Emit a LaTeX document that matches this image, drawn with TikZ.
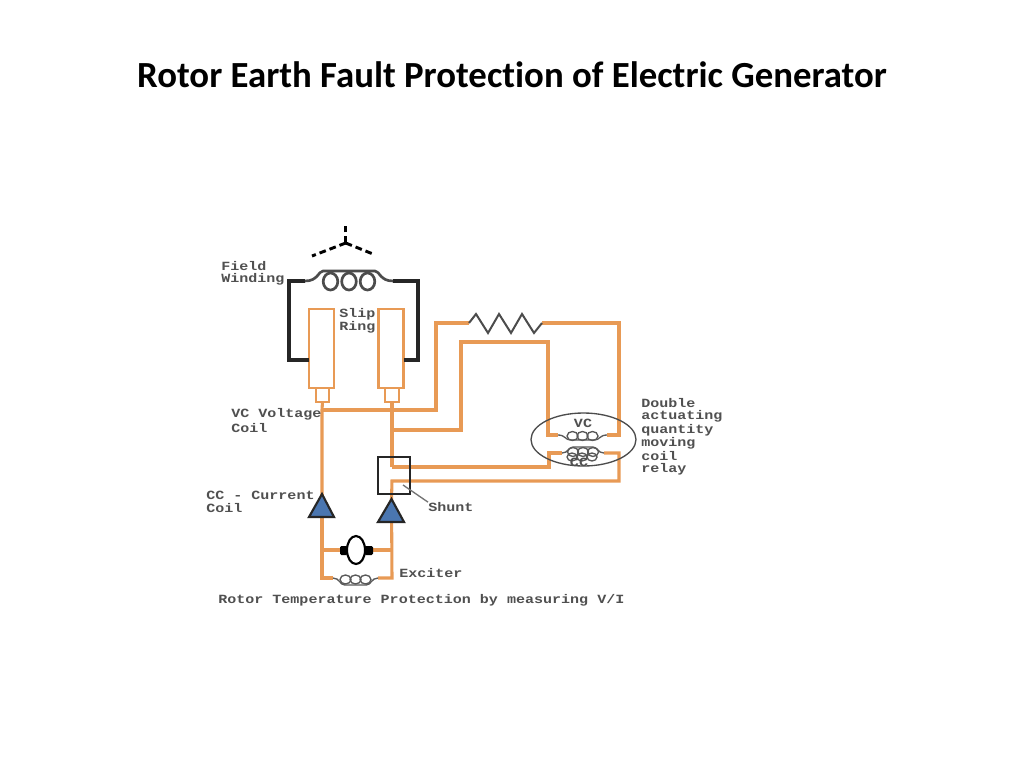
\documentclass[tikz,border=0pt]{standalone}
\usepackage{fontspec}
\usetikzlibrary{shapes.geometric}
\setmainfont{Carlito}[Ligatures=NoCommon]
\newfontfamily\typefont{Liberation Mono}
\definecolor{wire}{HTML}{E89A55}
\definecolor{lab}{HTML}{505050}
\definecolor{tri}{HTML}{4A76B0}
\newcommand{\labelbox}[1]{\scalebox{1.2}[1]{#1}}
\newcommand{\coilshape}[8]{% x1,x2,ywire,yline,ycentre,rx,ry,spacing
  \pgfmathsetmacro{\cs}{((#1)+(#2))/2}
  \pgfmathsetmacro{\cl}{\cs-(#8)}
  \pgfmathsetmacro{\cr}{\cs+(#8)}
  \pgfmathsetmacro{\ca}{(#1)+0.3*(\cs-(#1))}
  \pgfmathsetmacro{\cb}{(#2)-0.3*(\cs-(#1))}
  \draw[coilline] (#1,#3) .. controls (\ca,#3) and (\ca,#4) .. (\ca+5,#4) -- (\cb-5,#4) .. controls (\cb,#4) and (\cb,#3) .. (#2,#3);
  \draw[coilline] (\cl,#5) ellipse [x radius=#6,y radius=#7];
  \draw[coilline] (\cs,#5) ellipse [x radius=#6,y radius=#7];
  \draw[coilline] (\cr,#5) ellipse [x radius=#6,y radius=#7];
}
\tikzset{
  x=0.75pt,y=-0.75pt,
  wireline/.style={draw=wire,line width=2.3pt,line join=miter},
  brush/.style={draw=wire,line width=2.1pt,fill=white,inner sep=0pt,outer sep=0pt},
  field/.style={draw=black!85,line width=2.4pt},
  coilline/.style={draw=black!65,line width=1pt},
  tag/.style={font=\typefont\bfseries\fontsize{9.4}{11}\selectfont,text=lab,anchor=west,inner sep=0pt},
  arrowtri/.style={draw=black!85,line width=1.6pt,fill=tri,line join=miter},
  star/.style={draw=black,line width=2.2pt,dash pattern=on 5pt off 3pt}
}
\begin{document}
\begin{tikzpicture}
\useasboundingbox (0,0) rectangle (1024,768);
\fill[white] (0,0) rectangle (1024,768);
\node[font=\bfseries\fontsize{27.6}{32}\selectfont,text=black] (title) at (512,75) {Rotor Earth Fault Protection of Electric Generator};

% star point
\coordinate (sc) at (345.7,243);
\coordinate (st) at (345.7,225);
\coordinate (sl) at (312,256);
\coordinate (sr) at (373,254);
\draw[star] (sc) -- (st);
\draw[star] (sc) -- (sl);
\draw[star] (sc) -- (sr);

% slip rings and brushes
\node[brush,minimum width=18.75pt,minimum height=59.25pt] (ringL) at (321.5,348.5) {};
\node[brush,minimum width=19.2pt,minimum height=59.25pt] (ringR) at (391,348.5) {};
\node[brush,minimum width=9.75pt,minimum height=10.5pt] (brushL) at (322.5,395) {};
\node[brush,minimum width=10.5pt,minimum height=10.5pt] (brushR) at (392,395) {};

% field winding
\coordinate (fwL) at (305,281);
\coordinate (fwR) at (393,281);
\coordinate (fcL) at (289,281);
\coordinate (fcR) at (418,281);
\coordinate (fbL) at (289,360);
\coordinate (fbR) at (418,360);
\draw[field] (ringL.west |- fbL) -- (fbL) -- (fcL) -- (fwL);
\draw[field] (ringR.east |- fbR) -- (fbR) -- (fcR) -- (fwR);
\begin{scope}[coilline/.style={draw=black!70,line width=2pt}]
\coilshape{305}{393}{281}{271}{281.5}{7.3}{8.5}{18.5}
\end{scope}

% junctions
\coordinate (jA) at (322,410);
\coordinate (jB) at (392,430);
\coordinate (jC) at (392,467);
\coordinate (jD) at (392,481);
\coordinate (a1) at (436,410);
\coordinate (a2) at (436,323);
\coordinate (resL) at (469,323);
\coordinate (resR) at (542,323);
\coordinate (a3) at (619,323);
\coordinate (a4) at (619,435);
\coordinate (vcR) at (607,435);
\coordinate (vcL) at (558,435);
\coordinate (b1) at (461,430);
\coordinate (b2) at (461,342);
\coordinate (b3) at (548,342);
\coordinate (b4) at (548,435);
\coordinate (ccL) at (562,453);
\coordinate (ccR) at (604,453);
\coordinate (c1) at (549,453);
\coordinate (c2) at (549,467);
\coordinate (d1) at (619,453);
\coordinate (d2) at (619,481);
\coordinate (triLtop) at (322,494);
\coordinate (triRtop) at (391.5,499);
\coordinate (eL) at (322,578);
\coordinate (eR) at (392,578);
\coordinate (exL) at (333,578);
\coordinate (exR) at (378,578);
\coordinate (mL) at (322,550);
\coordinate (mR) at (392,550);

% orange circuit
\draw[wireline] (brushL.south) -- (jA) -- (triLtop);
\draw[wireline] (brushR.south) -- (jB) -- (jC);
\draw[wireline] (jA) -- (a1) -- (a2) -- (resL);
\draw[wireline] (resR) -- (a3) -- (a4) -- (vcR);
\draw[wireline] (jB) -- (b1) -- (b2) -- (b3) -- (b4) -- (vcL);
\draw[wireline] (jC) -- (c2) -- (c1) -- (ccL);
\draw[wireline] (ccR) -- (d1) -- (d2) -- (jD) -- (triRtop);
\draw[wireline] (triLtop) -- (eL) -- (exL);
\draw[wireline] (triRtop) -- (eR) -- (exR);
\draw[wireline] (mL) -- (341,550);
\draw[wireline] (mR) -- (372,550);

% resistor
\draw[draw=black!70,line width=1.5pt] (resL) -- (476,314) -- (488,333) -- (499,314) -- (511,333) -- (522,314) -- (534,333) -- (resR);

% shunt
\node[draw=black!85,line width=1.9pt,minimum width=24pt,minimum height=27.75pt,inner sep=0pt] (shuntbox) at (394,475.5) {};
\coordinate (shuntTip) at (403,485);
\node[tag] (shuntlab) at (428,507) {\labelbox{Shunt}};
\draw[draw=black!55,line width=1pt] (shuntTip) -- (shuntlab.north west);

% triangles
\draw[arrowtri] (triLtop) -- (334,517) -- (309,517) -- cycle;
\draw[arrowtri] (triRtop) -- (404,522) -- (378,522) -- cycle;

% exciter
\node[draw=black,line width=1.6pt,ellipse,minimum width=13.5pt,minimum height=21pt,inner sep=0pt,fill=white] (motor) at (356,550) {};
\fill[black,rounded corners=1pt] (340,546) rectangle (347.5,555);
\fill[black,rounded corners=1pt] (364.5,546) rectangle (373,555);
\coilshape{333}{378}{578}{585}{579.5}{5.5}{4.5}{10}

% relay
\coilshape{558}{607}{435}{440}{436}{5.5}{4.5}{10}
\coilshape{562}{604}{453}{447}{452}{5.5}{4.5}{10}
\draw[coilline] (572,457) ellipse [x radius=5,y radius=4];
\draw[coilline] (582,457) ellipse [x radius=5,y radius=4];
\draw[coilline] (592,457) ellipse [x radius=5,y radius=4];
\node[draw=black!70,line width=1pt,ellipse,minimum width=78.75pt,minimum height=39.75pt,inner sep=0pt] (relay) at (583.5,439.5) {};

% labels
\node[tag] (t1) at (221,266) {\labelbox{Field}};
\node[tag] (t2) at (221,279) {\labelbox{Winding}};
\node[tag] (t3) at (339,314) {\labelbox{Slip}};
\node[tag] (t4) at (339,327) {\labelbox{Ring}};
\node[tag] (t5) at (231,414) {\labelbox{VC Voltage}};
\node[tag] (t6) at (231,428) {\labelbox{Coil}};
\node[tag] (t7) at (206,495) {\labelbox{CC - Current}};
\node[tag] (t8) at (206,508) {\labelbox{Coil}};
\node[tag] (t9) at (399,573) {\labelbox{Exciter}};
\node[tag] (t10) at (218,600) {\labelbox{Rotor Temperature Protection by measuring V/I}};
\node[tag] (t11) at (641,403) {\labelbox{Double}};
\node[tag] (t12) at (641,416.5) {\labelbox{actuating}};
\node[tag] (t13) at (641,430) {\labelbox{quantity}};
\node[tag] (t14) at (641,443) {\labelbox{moving}};
\node[tag] (t15) at (641,456) {\labelbox{coil}};
\node[tag] (t16) at (641,469) {\labelbox{relay}};
\node[tag,anchor=center] (t17) at (583,423) {\labelbox{VC}};
\node[tag,anchor=center] (t18) at (579,462) {\labelbox{CC}};
\end{tikzpicture}
\end{document}
